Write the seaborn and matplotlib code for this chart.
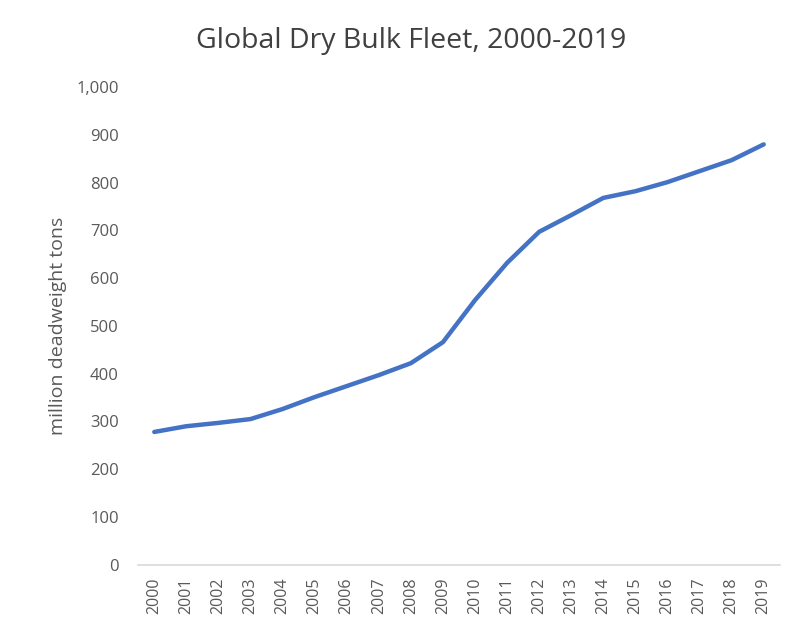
import pandas as pd
import matplotlib
matplotlib.use('Agg')
import matplotlib.pyplot as plt
import matplotlib.ticker as mticker
import seaborn as sns

years = [str(y) for y in range(2000, 2020)]
fleet = [278, 290, 297, 305, 326, 351, 374, 397, 422, 466,
         554, 632, 697, 732, 768, 782, 801, 824, 847, 880]

df = pd.DataFrame({'year': years, 'fleet': fleet})

sns.set_style('white')
plt.rcParams['font.family'] = ['Open Sans', 'DejaVu Sans']
text_color = '#595959'

fig = plt.figure(figsize=(7.9, 6.31), dpi=100)
ax = fig.add_axes([0.175, 0.105, 0.812, 0.757])

sns.lineplot(data=df, x='year', y='fleet', ax=ax, color='#4472C4',
             linewidth=3.2, sort=False)

ax.set_xlim(-0.5, len(years) - 0.5)
ax.set_ylim(0, 1000)
ax.yaxis.set_major_locator(mticker.MultipleLocator(100))
ax.yaxis.set_major_formatter(mticker.FuncFormatter(lambda v, p: f'{int(v):,}'))

for s in ['top', 'right', 'left']:
    ax.spines[s].set_visible(False)
ax.spines['bottom'].set_color('#D9D9D9')
ax.spines['bottom'].set_linewidth(1.2)

ax.tick_params(axis='x', rotation=90, labelsize=11.5, colors=text_color, length=0, pad=9)
ax.tick_params(axis='y', labelsize=12, colors=text_color, length=0, pad=14)
ax.set_xlabel('')
ax.set_ylabel('million deadweight tons', fontsize=14, color=text_color, labelpad=7)
fig.text(0.521, 0.935, 'Global Dry Bulk Fleet, 2000-2019', fontsize=20.5,
         color='#404040', ha='center', va='center')

fig.savefig('out.png', dpi=100)
